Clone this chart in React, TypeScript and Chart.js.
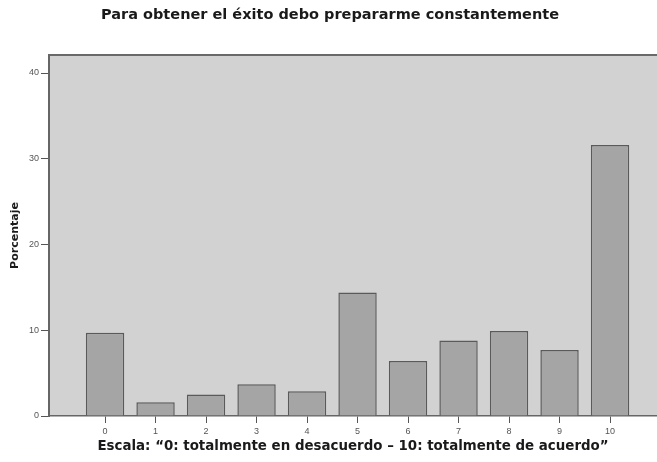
import React, { useEffect, useRef } from "react";
import { Chart, registerables } from "chart.js";

Chart.register(...registerables);

const categories = ["0", "1", "2", "3", "4", "5", "6", "7", "8", "9", "10"];
const percentages = [9.7, 1.6, 2.5, 3.7, 2.9, 14.4, 6.4, 8.8, 9.9, 7.7, 31.6];
const yTicks = [0, 10, 20, 30, 40];
const chartTitle = "Para obtener el éxito debo prepararme constantemente";
const xTitle = "Escala: “0: totalmente en desacuerdo – 10: totalmente de acuerdo”";
const yTitle = "Porcentaje";

const FONT = "'Liberation Sans', Arial, sans-serif";
const BOLD_FONT = "'DejaVu Sans', 'Liberation Sans', sans-serif";

export default function App() {
  const ref = useRef<HTMLCanvasElement | null>(null);

  useEffect(() => {
    if (!ref.current) return;
    const bgPlugin = {
      id: "plotBg",
      beforeDraw(chart: any) {
        const { ctx, chartArea } = chart;
        ctx.save();
        ctx.fillStyle = "#d2d2d2";
        ctx.fillRect(chartArea.left, chartArea.top, chartArea.right - chartArea.left, chartArea.bottom - chartArea.top);
        ctx.strokeStyle = "#6a6a6a";
        ctx.lineWidth = 2;
        ctx.beginPath();
        ctx.moveTo(chartArea.left, chartArea.top);
        ctx.lineTo(chartArea.right, chartArea.top);
        ctx.stroke();
        ctx.restore();
      },
      afterDraw(chart: any) {
        const { ctx, chartArea } = chart;
        ctx.save();
        ctx.fillStyle = "#1a1a1a";
        ctx.textAlign = "center";
        ctx.textBaseline = "middle";
        ctx.font = `bold 14.5px ${BOLD_FONT}`;
        ctx.fillText(chartTitle, 330, 15);
        ctx.font = `bold 13.4px ${BOLD_FONT}`;
        ctx.fillText(xTitle, (chartArea.left + chartArea.right) / 2, 447);
        ctx.restore();
      },
    };

    const chart = new Chart(ref.current, {
      type: "bar",
      data: {
        datasets: [
          {
            data: percentages.map((v, i) => ({ x: i, y: v })),
            backgroundColor: "#a5a5a5",
            borderColor: "#5a5a5a",
            borderWidth: 1.5,
            barPercentage: 0.76,
            categoryPercentage: 1,
          },
        ],
      },
      options: {
        animation: false,
        responsive: false,
        maintainAspectRatio: false,
        layout: { padding: { top: 55, left: 0, right: 0, bottom: 0 } },
        plugins: { legend: { display: false }, tooltip: { enabled: false }, title: { display: false } },
        scales: {
          x: {
            type: "linear",
            min: -1.11,
            max: 10.93,
            offset: false,
            afterBuildTicks(scale: any) {
              scale.ticks = categories.map((_, i) => ({ value: i }));
            },
            afterFit(scale: any) {
              scale.height = 46;
            },
            grid: { offset: false, drawOnChartArea: false, drawTicks: true, tickLength: 7, color: "#555", lineWidth: 1 },
            border: { display: true, color: "#666", width: 1.5 },
            ticks: {
              autoSkip: false,
              maxRotation: 0,
              padding: 3,
              color: "#555",
              font: { family: FONT, size: 9 },
              callback: (v: any) => categories[Math.round(v)] ?? "",
            },
            title: { display: false },
          },
          y: {
            min: 0,
            max: 42.1,
            afterBuildTicks(scale: any) {
              scale.ticks = yTicks.map((v) => ({ value: v }));
            },
            afterFit(scale: any) {
              scale.width = 49;
            },
            grid: { drawOnChartArea: false, drawTicks: true, tickLength: 8, color: "#555", lineWidth: 1 },
            border: { display: true, color: "#666", width: 2 },
            ticks: {
              padding: 2,
              color: "#555",
              font: { family: FONT, size: 9 },
              callback: (v: any) => String(v),
            },
            title: {
              display: true,
              text: yTitle,
              color: "#1a1a1a",
              font: { family: BOLD_FONT, size: 11, weight: "bold" },
              padding: { top: 9, bottom: 0 },
            },
          },
        },
      } as any,
      plugins: [bgPlugin],
    });
    return () => chart.destroy();
  }, []);

  return (
    <div style={{ position: "fixed", left: 0, top: 0, width: 657, height: 462, background: "#fff" }}>
      <canvas ref={ref} width={657} height={462} style={{ width: 657, height: 462, display: "block" }} />
    </div>
  );
}
